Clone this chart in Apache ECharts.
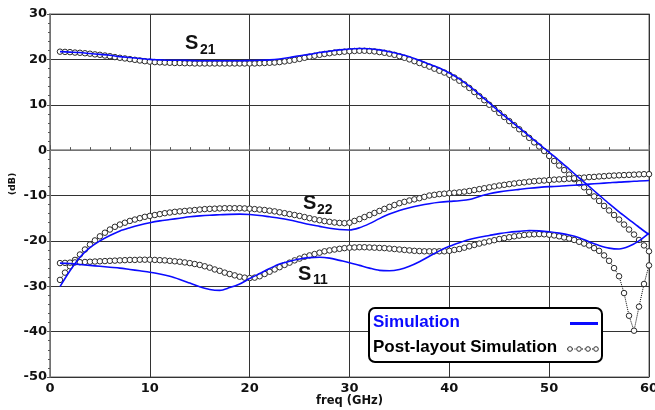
<!DOCTYPE html>
<html><head><meta charset="utf-8">
<script src="https://cdn.jsdelivr.net/npm/echarts@6/dist/echarts.min.js"></script>
<style>html,body{margin:0;padding:0;background:#fff}#c{width:655px;height:410px}</style>
</head><body><div id="c"></div>
<script>
const xTicks = [0, 10, 20, 30, 40, 50, 60];
const yTicks = [-50, -40, -30, -20, -10, 0, 10, 20, 30];
const legendNames = ['Simulation', 'Post-layout Simulation'];

const freqSim = [1,2,3,4,5,6,7,8,9,10,11,12,13,14,15,16,17,18,19,20,21,22,23,24,25,26,27,28,29,30,
  31,32,33,34,35,36,37,38,39,40,41,42,43,44,45,46,47,48,49,50,51,52,53,54,55,56,57,58,59,60];
const s21Sim = [21.7,21.6,21.5,21.3,21.1,20.9,20.6,20.4,20.2,20.0,
  19.9,19.8,19.8,19.75,19.7,19.7,19.7,19.7,19.7,19.75,
  19.8,19.9,20.1,20.4,20.8,21.1,21.5,21.8,22.1,22.3,
  22.4,22.35,22.1,21.7,21.2,20.6,19.8,18.9,18.1,17.0,
  15.7,14.1,12.3,10.4,8.5,6.7,4.9,3.1,1.3,-0.5,
  -2.3,-4.2,-6.1,-8.0,-9.9,-11.8,-13.6,-15.3,-17.0,-18.6];
const s22Sim = [-30.1,-26.6,-23.6,-21.5,-20.0,-18.8,-17.8,-17.1,-16.5,-16.0,
  -15.6,-15.3,-15.0,-14.7,-14.5,-14.35,-14.25,-14.15,-14.1,-14.2,
  -14.4,-14.7,-15.0,-15.4,-15.9,-16.4,-16.8,-17.2,-17.5,-17.6,
  -17.1,-16.2,-15.1,-14.1,-13.3,-12.7,-12.2,-11.8,-11.5,-11.3,
  -11.15,-10.9,-10.2,-9.6,-9.2,-8.9,-8.65,-8.4,-8.2,-8.05,
  -7.95,-7.8,-7.65,-7.5,-7.35,-7.2,-7.05,-6.95,-6.8,-6.7];
const s11Sim = [-24.9,-25.0,-25.2,-25.4,-25.6,-25.8,-26.0,-26.3,-26.6,-26.9,
  -27.3,-27.8,-28.5,-29.3,-30.1,-30.7,-30.9,-30.3,-29.5,-28.3,
  -27.2,-26.1,-25.1,-24.5,-24.0,-23.7,-23.6,-23.8,-24.3,-24.8,
  -25.4,-26.0,-26.5,-26.6,-26.3,-25.6,-24.6,-23.4,-22.2,-21.2,
  -20.4,-19.7,-19.2,-18.8,-18.4,-18.1,-17.9,-17.7,-17.8,-18.0,
  -18.3,-18.7,-19.3,-20.2,-21.0,-21.6,-21.8,-21.2,-20.0,-18.3];

const freqPost = [1,1.5,2,2.5,3,3.5,4,4.5,5,5.5, 6,6.5,7,7.5,8,8.5,9,9.5,10,10.5,
  11,11.5,12,12.5,13,13.5,14,14.5,15,15.5, 16,16.5,17,17.5,18,18.5,19,19.5,20,20.5,
  21,21.5,22,22.5,23,23.5,24,24.5,25,25.5, 26,26.5,27,27.5,28,28.5,29,29.5,30,30.5,
  31,31.5,32,32.5,33,33.5,34,34.5,35,35.5, 36,36.5,37,37.5,38,38.5,39,39.5,40,40.5,
  41,41.5,42,42.5,43,43.5,44,44.5,45,45.5, 46,46.5,47,47.5,48,48.5,49,49.5,50,50.5,
  51,51.5,52,52.5,53,53.5,54,54.5,55,55.5, 56,56.5,57,57.5,58,58.5,59,59.5,60];
const s21Post = [21.7,21.65,21.6,21.5,21.45,21.35,21.25,21.1,21.0,20.85,
  20.7,20.5,20.35,20.2,20.05,19.9,19.75,19.6,19.5,19.4,
  19.35,19.3,19.25,19.2,19.2,19.15,19.15,19.1,19.1,19.1,
  19.1,19.1,19.1,19.1,19.1,19.1,19.1,19.1,19.1,19.1,
  19.15,19.2,19.25,19.3,19.4,19.55,19.7,19.9,20.1,20.35,
  20.6,20.8,21.0,21.2,21.35,21.5,21.6,21.7,21.8,21.85,
  21.9,21.9,21.85,21.75,21.6,21.45,21.25,21.0,20.7,20.35,
  20.0,19.6,19.2,18.8,18.4,17.95,17.5,17.1,16.6,16.0,
  15.3,14.5,13.7,12.8,11.9,11.0,10.0,9.1,8.2,7.3,
  6.4,5.5,4.6,3.6,2.7,1.7,0.8,-0.2,-1.3,-2.4,
  -3.4,-4.4,-5.4,-6.4,-7.3,-8.2,-9.2,-10.2,-11.2,-12.3,
  -13.3,-14.3,-15.3,-16.4,-17.5,-18.6,-19.8,-21.0,-22.3];
const s22Post = [-28.6,-27.0,-25.6,-24.2,-23.0,-21.9,-20.8,-19.9,-19.0,-18.2,
  -17.5,-16.9,-16.4,-16.0,-15.6,-15.3,-15.0,-14.7,-14.5,-14.3,
  -14.1,-13.9,-13.75,-13.6,-13.5,-13.4,-13.3,-13.2,-13.1,-13.0,
  -12.95,-12.9,-12.85,-12.8,-12.8,-12.8,-12.8,-12.85,-12.9,-13.0,
  -13.1,-13.2,-13.35,-13.5,-13.7,-13.9,-14.1,-14.3,-14.5,-14.75,
  -15.0,-15.25,-15.45,-15.65,-15.8,-15.95,-16.05,-16.1,-16.0,-15.6,
  -15.2,-14.75,-14.3,-13.85,-13.4,-12.95,-12.5,-12.1,-11.7,-11.4,
  -11.1,-10.85,-10.6,-10.3,-10.0,-9.85,-9.7,-9.6,-9.5,-9.4,
  -9.3,-9.15,-9.0,-8.8,-8.6,-8.4,-8.2,-8.0,-7.8,-7.65,
  -7.5,-7.35,-7.2,-7.1,-6.95,-6.85,-6.75,-6.7,-6.6,-6.5,
  -6.45,-6.4,-6.3,-6.2,-6.1,-6.05,-5.95,-5.9,-5.8,-5.75,
  -5.65,-5.6,-5.55,-5.5,-5.45,-5.4,-5.35,-5.3,-5.3];
const s11Post = [-24.9,-24.85,-24.8,-24.75,-24.7,-24.65,-24.6,-24.55,-24.5,-24.45,
  -24.4,-24.35,-24.3,-24.25,-24.2,-24.2,-24.15,-24.15,-24.15,-24.2,
  -24.25,-24.3,-24.4,-24.5,-24.6,-24.75,-24.9,-25.1,-25.3,-25.6,
  -25.9,-26.3,-26.6,-27.0,-27.3,-27.6,-27.9,-28.1,-28.2,-28.1,
  -27.8,-27.3,-26.8,-26.3,-25.8,-25.3,-24.8,-24.3,-23.9,-23.5,
  -23.2,-22.9,-22.6,-22.3,-22.1,-21.9,-21.75,-21.6,-21.5,-21.45,
  -21.4,-21.4,-21.45,-21.5,-21.55,-21.6,-21.7,-21.8,-21.9,-22.0,
  -22.1,-22.2,-22.25,-22.3,-22.3,-22.3,-22.3,-22.3,-22.2,-22.0,
  -21.8,-21.5,-21.2,-20.9,-20.6,-20.35,-20.1,-19.85,-19.6,-19.4,
  -19.2,-19.0,-18.85,-18.7,-18.6,-18.55,-18.5,-18.55,-18.65,-18.8,
  -19.0,-19.25,-19.5,-19.8,-20.2,-20.6,-21.0,-21.6,-22.2,-23.2,
  -24.4,-26.0,-27.8,-31.5,-36.5,-39.8,-34.5,-29.5,-25.4];

const BLUE = '#0b0bff';
const pair = (xs, ys) => xs.map((x, i) => [x, ys[i]]);

const chart = echarts.init(document.getElementById('c'), null, {renderer: 'canvas'});

const simSeries = (data) => ({
  name: legendNames[0], type: 'line', data, symbol: 'none', smooth: 0.3,
  lineStyle: {color: BLUE, width: 1.6}, itemStyle: {color: BLUE}, z: 4
});
const postSeries = (data) => ({
  name: legendNames[1], type: 'line', data, symbol: 'circle', symbolSize: 5.5,
  showSymbol: true,
  itemStyle: {color: '#ffffff', borderColor: '#2a2a2a', borderWidth: 1},
  lineStyle: {color: '#000', width: 1, type: 'dotted'}, z: 3
});

const lf = 'bold 17px "Liberation Sans"';
const option = {
  animation: false,
  backgroundColor: '#fff',
  grid: {left: 50, right: 6, top: 14, bottom: 33, outerBoundsMode: 'none', containLabel: false,
    show: true, borderColor: '#999', borderWidth: 1.5, backgroundColor: 'transparent'},
  xAxis: {
    type: 'value', min: xTicks[0], max: xTicks[xTicks.length - 1], interval: 10,
    name: 'freq (GHz)', nameLocation: 'middle', nameGap: 18, nameMoveOverlap: false,
    nameTextStyle: {fontFamily: 'DejaVu Sans', fontWeight: 'bold', fontSize: 11.5, color: '#111', verticalAlign: 'top'},
    axisLine: {show: true, lineStyle: {color: '#888', width: 1.5}},
    axisTick: {show: true, inside: true, length: 5, lineStyle: {color: '#555'}},
    minorTick: {show: true, splitNumber: 5, length: 3, lineStyle: {color: '#555'}},
    axisLabel: {fontFamily: 'DejaVu Sans', fontWeight: 'bold', fontSize: 13, color: '#111', margin: 5},
    splitLine: {show: true, lineStyle: {color: '#333', width: 1}}
  },
  yAxis: {
    type: 'value', min: yTicks[0], max: yTicks[yTicks.length - 1], interval: 10,
    axisLine: {show: true, lineStyle: {color: '#888', width: 1.5}},
    axisTick: {show: true, length: 3, lineStyle: {color: '#555'}},
    minorTick: {show: true, splitNumber: 5, length: 2, lineStyle: {color: '#555'}},
    axisLabel: {fontFamily: 'DejaVu Sans', fontWeight: 'bold', fontSize: 13, color: '#111', margin: 3},
    splitLine: {show: true, lineStyle: {color: '#333', width: 1}}
  },
  graphic: [
    {type: 'text', left: 185, top: 33, style: {text: 'S', font: 'bold 20px "Liberation Sans"', fill: '#111'}},
    {type: 'text', left: 200, top: 43, style: {text: '21', font: 'bold 14px "Liberation Sans"', fill: '#111'}},
    {type: 'text', left: 303, top: 193, style: {text: 'S', font: 'bold 20px "Liberation Sans"', fill: '#111'}},
    {type: 'text', left: 317, top: 203, style: {text: '22', font: 'bold 14px "Liberation Sans"', fill: '#111'}},
    {type: 'text', left: 298, top: 264, style: {text: 'S', font: 'bold 20px "Liberation Sans"', fill: '#111'}},
    {type: 'text', left: 313, top: 273, style: {text: '11', font: 'bold 14px "Liberation Sans"', fill: '#111'}},
    {type: 'text', x: 13, y: 184, rotation: Math.PI / 2,
     style: {text: '(dB)', font: 'bold 9.5px "DejaVu Sans"', fill: '#111', align: 'center', verticalAlign: 'middle'}},
    // legend box
    {type: 'rect', z: 100, shape: {x: 369, y: 308, width: 233, height: 54, r: 6},
     style: {fill: '#fff', stroke: '#000', lineWidth: 2}},
    {type: 'text', z: 101, x: 373, y: 322, style: {text: legendNames[0], font: lf, fill: BLUE, verticalAlign: 'middle'}},
    {type: 'line', z: 101, shape: {x1: 570, y1: 323.5, x2: 598, y2: 323.5}, style: {stroke: BLUE, lineWidth: 3}},
    {type: 'text', z: 101, x: 373, y: 347.5, style: {text: legendNames[1], font: lf, fill: '#000', verticalAlign: 'middle'}},
    {type: 'line', z: 101, shape: {x1: 567, y1: 349, x2: 598, y2: 349}, style: {stroke: '#000', lineWidth: 1, lineDash: [1, 1.5]}},
    {type: 'circle', z: 102, shape: {cx: 570, cy: 349, r: 2.3}, style: {fill: '#fff', stroke: '#333', lineWidth: 1}},
    {type: 'circle', z: 102, shape: {cx: 579, cy: 349, r: 2.3}, style: {fill: '#fff', stroke: '#333', lineWidth: 1}},
    {type: 'circle', z: 102, shape: {cx: 588, cy: 349, r: 2.3}, style: {fill: '#fff', stroke: '#333', lineWidth: 1}},
    {type: 'circle', z: 102, shape: {cx: 596, cy: 349, r: 2.3}, style: {fill: '#fff', stroke: '#333', lineWidth: 1}}
  ],
  series: [
    postSeries(pair(freqPost, s21Post)),
    postSeries(pair(freqPost, s22Post)),
    postSeries(pair(freqPost, s11Post)),
    simSeries(pair(freqSim, s21Sim)),
    simSeries(pair(freqSim, s22Sim)),
    simSeries(pair(freqSim, s11Sim))
  ]
};
chart.setOption(option);
</script>
</body></html>
